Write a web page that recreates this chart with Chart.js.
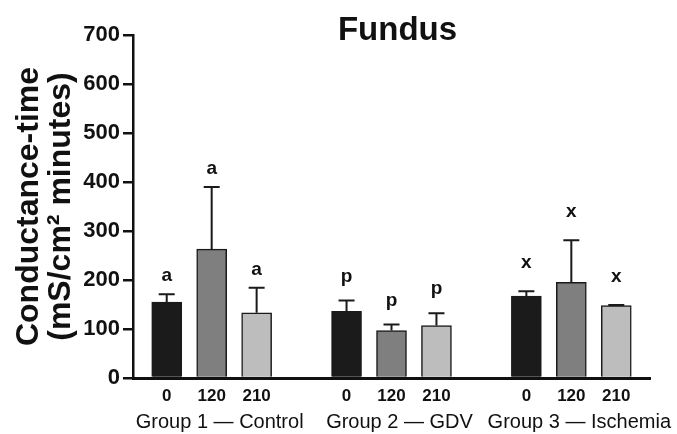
<!DOCTYPE html>
<html>
<head>
<meta charset="utf-8">
<script src="https://cdn.jsdelivr.net/npm/chart.js@4/dist/chart.umd.min.js"></script>
<style>
  html, body { margin: 0; padding: 0; background: #fff; }
</style>
</head>
<body>
<canvas id="myChart" width="677" height="434"></canvas>
<script>
// data
const groups = ["Group 1 — Control", "Group 2 — GDV", "Group 3 — Ischemia"];
const times = ["0", "120", "210"];
const mean0 = [155, 136, 167];
const mean120 = [263, 97, 195];
const mean210 = [133, 107, 148];
const sem0 = [16, 22, 10];
const sem120 = [127, 12, 86];
const sem210 = [51, 25, 1];
const letters = ["a", "p", "x"];

// styles
const barColors = ["#1b1b1b", "#7f7f7f", "#bdbdbd"];
const letterGap = [13, 19, 23];
const ink = "#111";
const sans = '"Liberation Sans", Arial, sans-serif';

// bar position on the x scale: group slot + time slot
const pos = (g, t) => g * 4 + t;

const means = [mean0, mean120, mean210];
const sems = [sem0, sem120, sem210];

const datasets = means.map((arr, t) => ({
  label: times[t],
  data: arr.map((v, g) => ({ x: pos(g, t), y: v })),
  sem: sems[t],
  backgroundColor: barColors[t],
  borderColor: "#1a1a1a",
  borderWidth: 1.5,
  barThickness: 30,
  grouped: false,
}));

//error bars + letters
const errorBars = {
  id: "errorBars",
  afterDatasetsDraw(chart) {
    const ctx = chart.ctx;
    const y = chart.scales.y;
    ctx.save();
    chart.data.datasets.forEach((ds, t) => {
      const meta = chart.getDatasetMeta(t);
      meta.data.forEach((bar, g) => {
        const topVal = ds.data[g].y + ds.sem[g];
        const yTop = y.getPixelForValue(topVal);
        ctx.strokeStyle = "#1a1a1a";
        ctx.lineWidth = 2;
        ctx.beginPath();
        ctx.moveTo(bar.x, bar.y);
        ctx.lineTo(bar.x, yTop);
        ctx.moveTo(bar.x - 8, yTop);
        ctx.lineTo(bar.x + 8, yTop);
        ctx.stroke();

        ctx.fillStyle = ink;
        ctx.font = "bold 19px " + sans;
        ctx.textAlign = "center";
        ctx.textBaseline = "alphabetic";
        ctx.fillText(letters[g], bar.x, yTop - letterGap[g]);
      });
    });
    ctx.restore();
  },
};

//title over the plot
const plotTitle = {
  id: "plotTitle",
  afterDraw(chart) {
    const ctx = chart.ctx;
    const a = chart.chartArea;
    ctx.save();
    ctx.fillStyle = ink;
    ctx.font = "bold 33px " + sans;
    ctx.textAlign = "center";
    ctx.textBaseline = "alphabetic";
    ctx.fillText("Fundus", (a.left + a.right) / 2 + 6, 40);
    ctx.restore();
  },
};

new Chart("myChart", {
  type: "bar",
  data: { datasets: datasets },
  options: {
    responsive: false,
    animation: false,
    layout: { padding: { top: 35, right: 27, bottom: 0, left: 0 } },
    plugins: {
      legend: { display: false },
      tooltip: { enabled: false },
    },
    scales: {
      x: {
        type: "linear",
        min: -0.75,
        max: 10.75,
        offset: false,
        grid: { display: false, drawTicks: false, offset: false },
        border: { color: ink, width: 3 },
        ticks: {
          autoSkip: false,
          maxRotation: 0,
          color: ink,
          padding: 8,
          font: { family: sans, size: 17, weight: "bold" },
          callback: (v) => times[v % 4],
        },
        afterBuildTicks: (s) => {
          s.ticks = [];
          groups.forEach((g, gi) => times.forEach((t, ti) => s.ticks.push({ value: pos(gi, ti) })));
        },
        afterFit: (s) => { s.height = 30; },
      },
      g: {
        type: "linear",
        position: "bottom",
        min: -0.75,
        max: 10.75,
        offset: false,
        grid: { display: false, drawTicks: false },
        border: { display: false },
        ticks: {
          autoSkip: false,
          maxRotation: 0,
          color: ink,
          padding: 2,
          labelOffset: 8,
          font: { family: sans, size: 20 },
          callback: (v) => groups[(v - 1) / 4],
        },
        afterBuildTicks: (s) => {
          s.ticks = groups.map((g, gi) => ({ value: pos(gi, 1) }));
        },
        afterFit: (s) => { s.height = 26; },
      },
      y: {
        min: 0,
        max: 700,
        grid: { drawOnChartArea: false, tickLength: 10, lineWidth: 2.5, color: ink },
        border: { color: ink, width: 2.5 },
        ticks: {
          stepSize: 100,
          color: ink,
          padding: 3,
          font: { family: sans, size: 22, weight: "bold" },
        },
        title: {
          display: true,
          text: ["Conductance-time", "(mS/cm² minutes)"],
          color: ink,
          font: { family: sans, size: 32, weight: "bold", lineHeight: 1.0 },
          padding: { top: 13, bottom: 0 },
        },
        afterFit: (s) => { s.width = 133; },
      },
    },
  },
  plugins: [errorBars, plotTitle],
});
</script>
</body>
</html>
